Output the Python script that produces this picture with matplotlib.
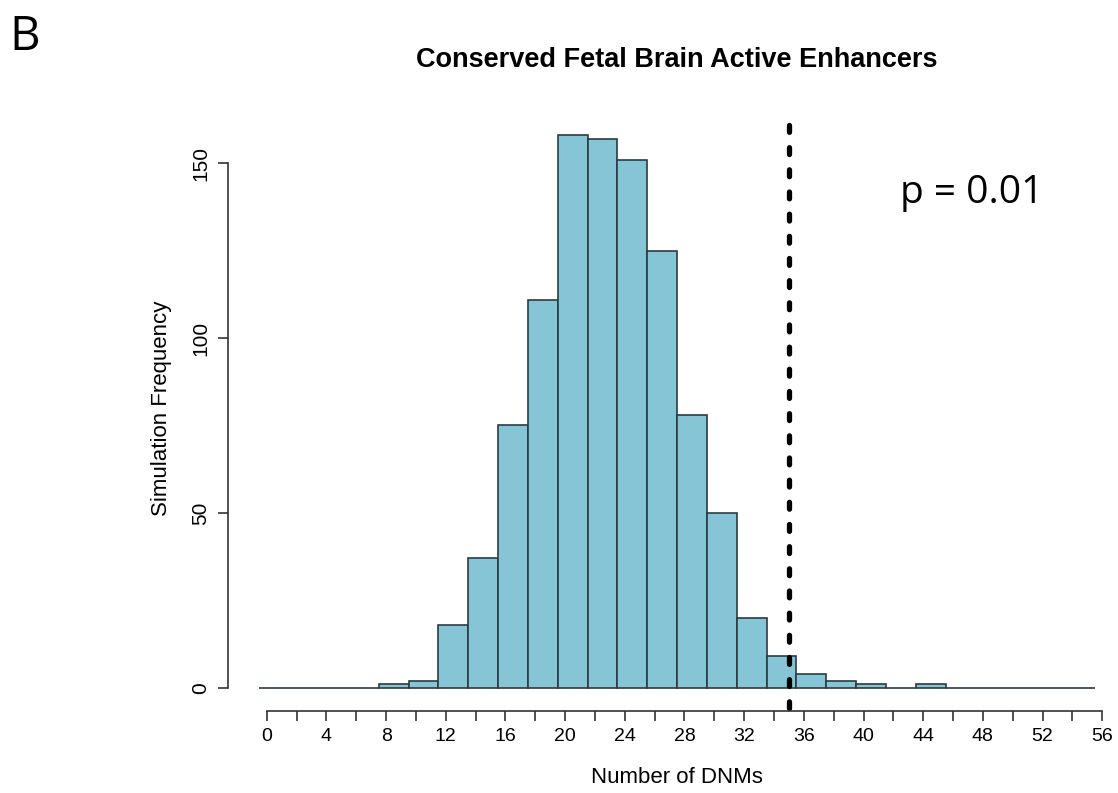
import numpy as np
import matplotlib.pyplot as plt

# histogram of simulated DNM counts, bins of width 2 from 0 to 56
bin_lefts = np.arange(0, 56, 2)
counts = [0, 0, 0, 0, 1, 2, 18, 37, 75, 111, 158, 157, 151, 125,
          78, 50, 20, 9, 4, 2, 1, 0, 1, 0, 0, 0, 0, 0]
observed = 35
p_text = 'p = 0.01'
x_ticks = np.arange(0, 57, 2)
y_ticks = [0, 50, 100, 150]

# bars are drawn half a unit left of the axis (as in the original figure)
bar_shift = -0.5

plt.rcParams['font.family'] = ['Liberation Sans', 'DejaVu Sans']

fig = plt.figure(figsize=(11.18, 7.93), dpi=100)
ax = fig.add_axes([0.1986, 0.0883, 0.8006, 0.7944])
ax.set_xlim(-3, 57)
ax.set_ylim(-10, 170)

ax.bar(bin_lefts + bar_shift, counts, width=2, align='edge',
       color='#86c5d5', edgecolor='#2b3b42', linewidth=1.2)

# dotted line at the observed count, drawn top-down so it starts with a dot
ax.plot([observed, observed], [161, -6.6], color='black', linewidth=3.8,
        linestyle=(0, (1.3, 2.9)), dash_capstyle='round', clip_on=False)

for s in ['top', 'right']:
    ax.spines[s].set_visible(False)
ax.spines['left'].set_position(('data', -2.6))
ax.spines['left'].set_bounds(0, 150)
ax.spines['bottom'].set_position(('data', -6.6))
ax.spines['bottom'].set_bounds(0, 56)
for s in ['left', 'bottom']:
    ax.spines[s].set_linewidth(1.2)
    ax.spines[s].set_color('#333333')

ax.set_yticks(y_ticks)
ax.set_yticklabels([str(v) for v in y_ticks], rotation=90, va='center')
ax.set_xticks(x_ticks)
ax.set_xticklabels([str(v) if v % 4 == 0 else '' for v in x_ticks])
ax.tick_params(axis='both', length=7, width=1.2, color='#333333', pad=5)
ax.tick_params(axis='x', labelsize=14)
ax.tick_params(axis='y', labelsize=15, pad=6)

ax.set_xlabel('Number of DNMs', fontsize=16, labelpad=16)
ax.xaxis.label.set_x(0.508)
ax.set_ylabel('Simulation Frequency', fontsize=16, labelpad=14)

fig.text(0.605, 0.924, 'Conserved Fetal Brain Active Enhancers',
         fontsize=19.5, fontweight='bold', ha='center', va='center')
fig.text(0.008, 0.953, 'B', fontsize=34, family=['Open Sans', 'DejaVu Sans'],
         ha='left', va='center')
fig.text(0.869, 0.757, p_text, fontsize=28,
         family=['Open Sans', 'DejaVu Sans'], ha='center', va='center')

fig.savefig('out.png', dpi=100)
